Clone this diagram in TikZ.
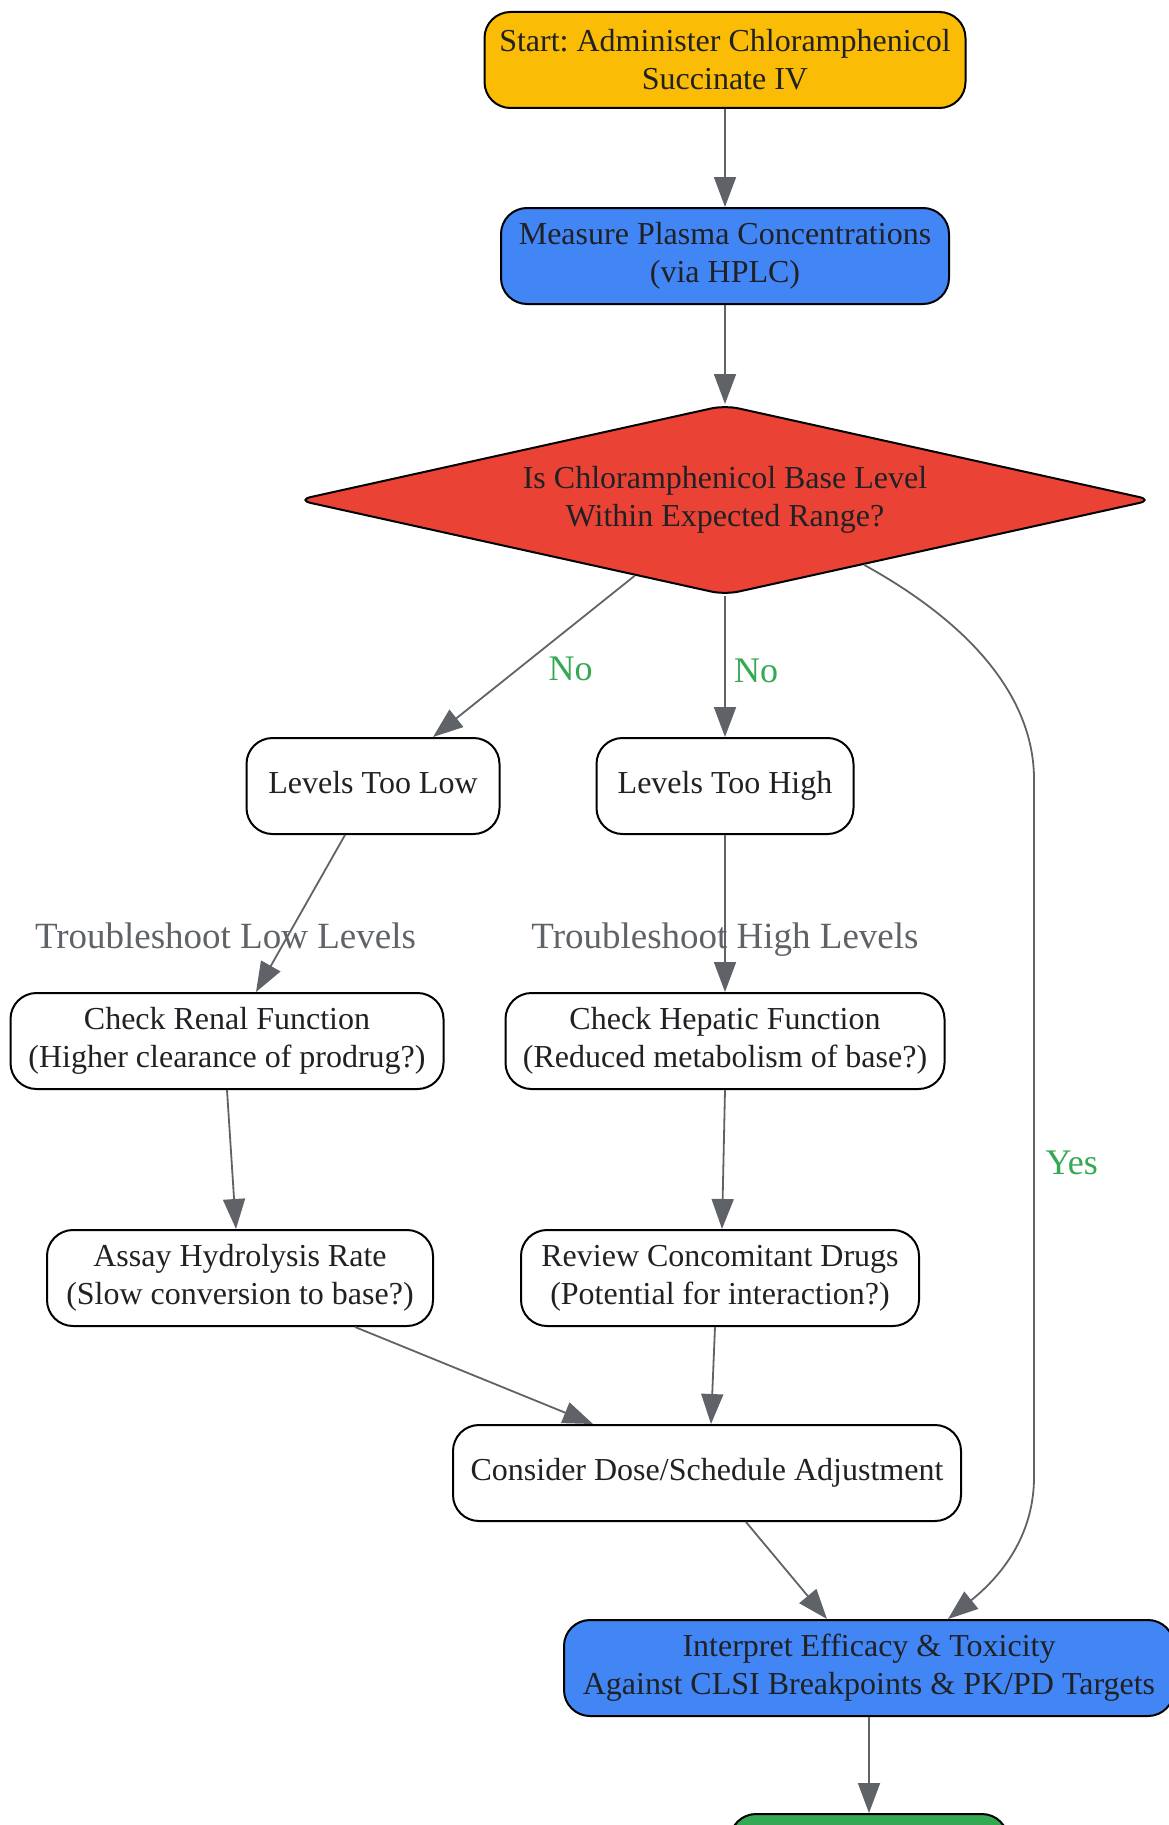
\documentclass[tikz,border=0pt]{standalone}
\usepackage{fontspec}
\setmainfont{Liberation Serif}
\usepackage{xcolor}
\usetikzlibrary{arrows.meta, positioning, shapes.geometric, shapes.misc}
\frenchspacing

\definecolor{gyellow}{HTML}{FBBC05}
\definecolor{gblue}{HTML}{4285F4}
\definecolor{gred}{HTML}{EA4335}
\definecolor{ggreen}{HTML}{34A853}
\definecolor{ggray}{HTML}{5F6368}
\definecolor{gtext}{HTML}{202124}

\begin{document}
\begin{tikzpicture}[
    x=0.5pt, y=-0.5pt,
    proc/.style={rectangle, draw, line width=1pt, rounded corners=13pt, fill=white,
                 minimum height=48pt, inner sep=2pt, align=center, text=gtext,
                 font=\fontsize{16}{19}\selectfont},
    oneline/.style={text height=1.0em, text depth=0.22em},
    decision/.style={diamond, draw, line width=1pt, rounded corners=7pt, fill=gred,
                     aspect=4.5, inner sep=0pt, minimum width=428pt, minimum height=95pt,
                     align=center, text=gtext, font=\fontsize{16}{19}\selectfont},
    arr/.style={-{Triangle[length=15pt, width=11pt]}, draw=ggray, line width=0.9pt},
    yn/.style={font=\fontsize{18}{21}\selectfont, text=ggreen},
    trb/.style={font=\fontsize{18.5}{22}\selectfont, text=ggray, text height=0.94em, text depth=0.22em}
]
\useasboundingbox (0,0) rectangle (1168,1825);

\node[proc, fill=gyellow, minimum width=240.5pt] (start) at (725,60)
    {Start: Administer Chloramphenicol\\Succinate IV};
\node[proc, fill=gblue, minimum width=224pt]    (meas)  at (725,256)
    {Measure Plasma Concentrations\\(via HPLC)};
\node[decision] (dec) at (725,500) {Is Chloramphenicol Base Level\\Within Expected Range?};
\node[proc, oneline, minimum width=126.5pt] (low)  at (373,786)  {Levels Too Low};
\node[proc, oneline, minimum width=128.5pt] (high) at (725,786)  {Levels Too High};
\node[proc, minimum width=216.5pt] (renal) at (227,1041) {Check Renal Function\\(Higher clearance of prodrug?)};
\node[proc, minimum width=219.5pt] (hep)   at (725,1041) {Check Hepatic Function\\(Reduced metabolism of base?)};
\node[proc, minimum width=193pt]   (assay) at (240,1278) {Assay Hydrolysis Rate\\(Slow conversion to base?)};
\node[proc, minimum width=199pt]   (rev)   at (720,1278) {Review Concomitant Drugs\\(Potential for interaction?)};
\node[proc, oneline, minimum width=254pt] (dose) at (707,1473) {Consider Dose/Schedule Adjustment};
\node[proc, fill=gblue, minimum width=305pt] (interp) at (869,1668)
    {Interpret Efficacy \& Toxicity\\Against CLSI Breakpoints \& PK/PD Targets};
\node[proc, fill=ggreen, minimum width=139pt] (fin) at (869,1862) {};

\draw[arr] (start) -- (meas);
\draw[arr] (meas) -- (dec);
\draw[arr] (dec.220) -- node[yn, pos=0.58, xshift=26.5pt]{No} ([xshift=30pt]low.north);
\draw[arr] (dec.south) -- node[yn, pos=0.53, xshift=15.5pt]{No} (high.north);
\draw[arr] (dec.-25) .. controls (1000,640) and (1034,720) .. (1034,779)
    -- node[yn, pos=0.55, right=2pt]{Yes} (1034,1477)
    .. controls (1034,1545) and (990,1585) .. ([xshift=39.5pt]interp.north);
\draw[arr] ([xshift=-14pt]low.south) -- node[trb, pos=0.68, xshift=-29.5pt]{Troubleshoot Low Levels} ([xshift=14.5pt]renal.north);
\draw[arr] (high.south) -- node[trb, pos=0.68]{Troubleshoot High Levels} (hep.north);
\draw[arr] (renal.south) -- ([xshift=-2pt]assay.north);
\draw[arr] (hep.south) -- ([xshift=1pt]rev.north);
\draw[arr] ([xshift=57.5pt]assay.south) -- ([xshift=-57pt]dose.north);
\draw[arr] ([xshift=-2.5pt]rev.south) -- ([xshift=2pt]dose.north);
\draw[arr] ([xshift=19.5pt]dose.south) -- ([xshift=-21pt]interp.north);
\draw[arr] (interp) -- (fin);
\end{tikzpicture}
\end{document}
